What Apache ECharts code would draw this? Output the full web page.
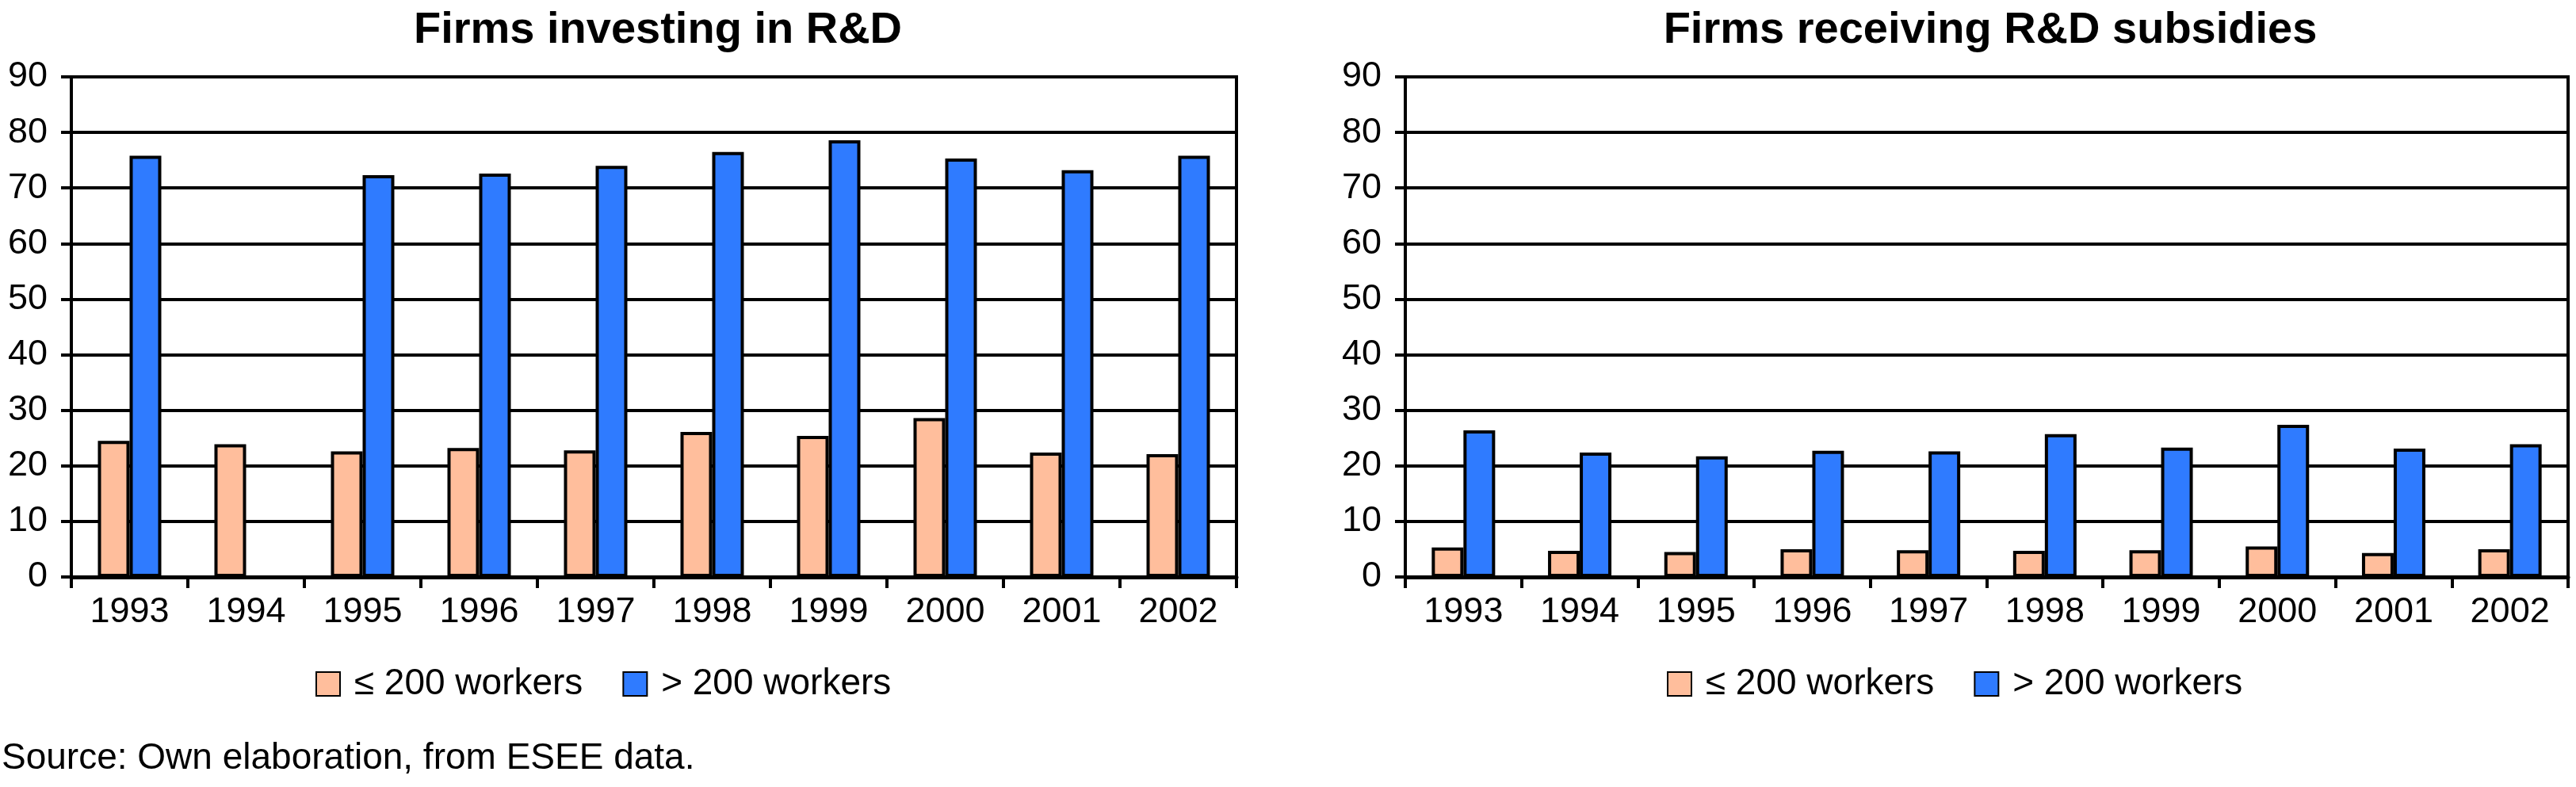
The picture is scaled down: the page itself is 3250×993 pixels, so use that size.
<!DOCTYPE html>
<html>
<head>
<meta charset="utf-8">
<script src="https://cdn.jsdelivr.net/npm/echarts@6/dist/echarts.min.js"></script>
<style>
html,body{margin:0;padding:0;background:#fff;}
#chart{width:3250px;height:993px;}
</style>
</head>
<body>
<div id="chart"></div>
<script>
const years = ['1993','1994','1995','1996','1997','1998','1999','2000','2001','2002'];
const seriesNames = ['\u2264 200 workers', '> 200 workers'];
const titles = ['Firms investing in R&D', 'Firms receiving R&D subsidies'];
const sourceNote = 'Source: Own elaboration, from ESEE data.';

// Left panel: firms investing in R&D (%)
const investSmall = [24.5, 23.9, 22.6, 23.2, 22.8, 26.1, 25.4, 28.6, 22.4, 22.1];
const investLarge = [75.8, null, 72.3, 72.6, 74.0, 76.5, 78.6, 75.3, 73.2, 75.8];
// Right panel: firms receiving R&D subsidies (%)
const subsidySmall = [5.3, 4.7, 4.5, 5.0, 4.8, 4.7, 4.8, 5.5, 4.3, 5.0];
const subsidyLarge = [26.4, 22.4, 21.7, 22.7, 22.6, 25.7, 23.3, 27.4, 23.1, 23.9];

const yTicks = {min: 0, max: 90, interval: 10};

const colSmall = '#FFBE9C';
const colLarge = '#2F7BFF';
const FONT = '"Liberation Sans", Arial, sans-serif';

const chart = echarts.init(document.getElementById('chart'), null, {renderer: 'canvas'});

function xAxis(gi) {
  return {
    type: 'category', gridIndex: gi, data: years,
    axisLine: {show: true, lineStyle: {color: '#000', width: 5}},
    axisTick: {show: true, length: 14, lineStyle: {color: '#000', width: 4}},
    axisLabel: {color: '#000', fontSize: 45, fontFamily: FONT, margin: 22}
  };
}
function yAxis(gi) {
  return {
    type: 'value', gridIndex: gi, min: yTicks.min, max: yTicks.max, interval: yTicks.interval,
    axisLine: {show: true, lineStyle: {color: '#000', width: 4}},
    axisTick: {show: true, length: 13, lineStyle: {color: '#000', width: 4}},
    splitLine: {show: true, lineStyle: {color: '#000', width: 4}},
    axisLabel: {color: '#000', fontSize: 45, fontFamily: FONT, margin: 30}
  };
}
function bar(name, data, color, gi) {
  return {
    type: 'bar', name: name, data: data, xAxisIndex: gi, yAxisIndex: gi,
    barWidth: 40, barGap: '0%',
    itemStyle: {color: color, borderColor: '#000', borderWidth: 4},
    animation: false
  };
}

const option = {
  backgroundColor: '#fff',
  animation: false,
  title: [
    {text: titles[0], left: 825, top: 6, textAlign: 'center',
     textStyle: {fontSize: 56, fontWeight: 'bold', color: '#000', fontFamily: FONT}},
    {text: titles[1], left: 2506, top: 6, textAlign: 'center',
     textStyle: {fontSize: 56, fontWeight: 'bold', color: '#000', fontFamily: FONT}}
  ],
  legend: [
    {data: seriesNames, left: 393, top: 835, itemWidth: 30, itemHeight: 30, itemGap: 50,
     icon: 'rect', formatter: ' {name}',
     textStyle: {fontSize: 46, color: '#000', fontFamily: FONT}},
    {data: seriesNames, left: 2098, top: 835, itemWidth: 30, itemHeight: 30, itemGap: 50,
     icon: 'rect', formatter: ' {name}',
     textStyle: {fontSize: 46, color: '#000', fontFamily: FONT}}
  ],
  grid: [
    {left: 90, right: 1690, top: 97, bottom: 265, show: true, borderColor: '#000', borderWidth: 4, backgroundColor: '#fff'},
    {left: 1773, right: 10, top: 97, bottom: 265, show: true, borderColor: '#000', borderWidth: 4, backgroundColor: '#fff'}
  ],
  xAxis: [xAxis(0), xAxis(1)],
  yAxis: [yAxis(0), yAxis(1)],
  series: [
    bar(seriesNames[0], investSmall, colSmall, 0),
    bar(seriesNames[1], investLarge, colLarge, 0),
    bar(seriesNames[0], subsidySmall, colSmall, 1),
    bar(seriesNames[1], subsidyLarge, colLarge, 1)
  ],
  graphic: [
    {type: 'text', left: 2, top: 934,
     style: {text: sourceNote, fontSize: 46, fontFamily: FONT, fill: '#000'}}
  ]
};
chart.setOption(option);
</script>
</body>
</html>
